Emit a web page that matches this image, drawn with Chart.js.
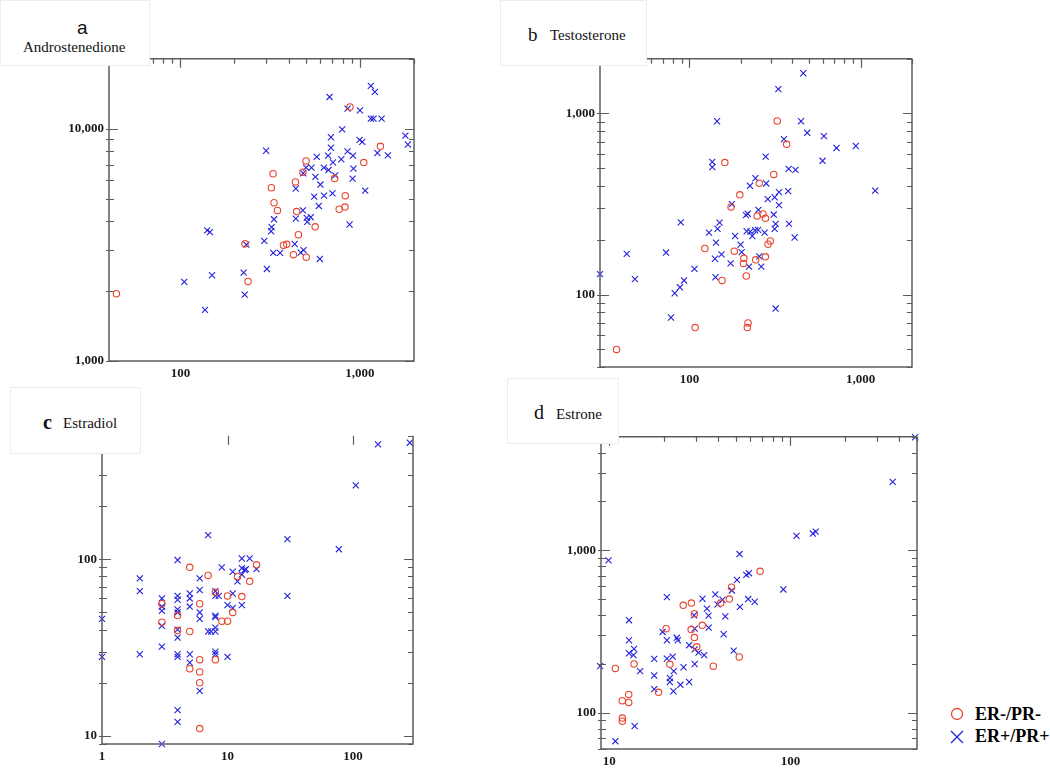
<!DOCTYPE html>
<html>
<head>
<meta charset="utf-8">
<title>Steroid scatter panels</title>
<script src="https://cdn.jsdelivr.net/npm/chart.js@4.4.1/dist/chart.umd.min.js"></script>
<style>
  body { margin: 0; background: #fff; }
  #page { position: relative; width: 1050px; height: 768px; overflow: hidden; font-family: "Liberation Serif", serif; }
  .panel { position: absolute; }
  .tag { position: absolute; background: #fff; border: 1px solid #ededed; z-index: 2; color: #111; }
  .tag span, .legend span { position: absolute; white-space: nowrap; line-height: 1; }
  .legend { position: absolute; left: 945px; top: 700px; width: 105px; height: 50px; }
  .legend svg { position: absolute; }
</style>
</head>
<body>
<div id="page">
  <div class="panel" id="boxA"><canvas id="chartA"></canvas></div>
  <div class="panel" id="boxB"><canvas id="chartB"></canvas></div>
  <div class="panel" id="boxC"><canvas id="chartC"></canvas></div>
  <div class="panel" id="boxD"><canvas id="chartD"></canvas></div>

  <div class="tag" style="left:0;top:0;width:148px;height:64px;">
    <span style="left:76px;top:16px;font:19px 'Liberation Sans',sans-serif;">a</span>
    <span style="left:22px;top:39px;font-size:15px;">Androstenedione</span>
  </div>
  <div class="tag" style="left:500px;top:0;width:145px;height:64px;">
    <span style="left:27px;top:24px;font-size:19px;">b</span>
    <span style="left:49px;top:27px;font-size:15px;">Testosterone</span>
  </div>
  <div class="tag" style="left:10px;top:387px;width:129px;height:65px;">
    <span style="left:32px;top:24px;font-size:20px;font-weight:bold;">c</span>
    <span style="left:52px;top:28px;font-size:15px;">Estradiol</span>
  </div>
  <div class="tag" style="left:507px;top:378px;width:110px;height:64px;">
    <span style="left:26px;top:23px;font-size:20px;">d</span>
    <span style="left:48px;top:28px;font-size:15px;">Estrone</span>
  </div>

  <div class="legend">
    <svg style="left:4px;top:6px;" width="16" height="16"><circle cx="8" cy="8" r="5.5" fill="none" stroke="#e9452c" stroke-width="1.3"/></svg>
    <span style="left:30px;top:5px;font-size:18px;font-weight:bold;">ER-/PR-</span>
    <svg style="left:4px;top:29px;" width="16" height="16"><path d="M2 2 L14 14 M14 2 L2 14" stroke="#2222dd" stroke-width="1.3"/></svg>
    <span style="left:30px;top:27px;font-size:18px;font-weight:bold;">ER+/PR+</span>
  </div>
</div>

<script>
// ===============================
// Data
// ===============================

// a) Androstenedione
const andro_neg_x = [44,229,238,328,321,332,347,375,391,426,437,444,454,481,501,502,563,722,766,825,828,880,1050,1300];
const andro_neg_y = [1950,3200,2200,6400,5570,4800,4450,3150,3180,2870,5900,4400,3500,6500,7270,2800,3780,6100,4500,4600,5150,12400,7150,8400];
const andro_pos_x = [105,137,141,146,150,225,228,233,293,300,303,320,322,332,329,359,439,439,433,468,481,483,485,501,505,509,532,537,565,556,575,590,598,602,629,631,665,677,689,689,668,703,707,728,787,796,853,853,875,910,914,920,1000,995,1030,1070,1150,1190,1150,1210,1250,1320,1430,1790,1850];
const andro_pos_y = [2190,1660,3650,3590,2340,2400,1930,3170,3290,8040,2490,3620,3770,4075,2920,2920,5530,4100,3190,2930,4450,6430,3000,6800,4130,3970,4160,6800,6200,5100,7560,4650,2750,5750,6800,5150,7660,13700,9190,8280,6640,5270,7160,6300,7390,9930,12200,7990,3870,6100,7660,6730,12000,8950,8780,5410,11060,11060,15300,14400,7860,11060,7680,9340,8550];
const andro_x_labels = [100, 1000];
const andro_y_labels = [1000, 10000];

// b) Testosterone
const testo_neg_x = [37.5,108,123,155,161,175,183,197,208,207,215,220,218,244,249,256,269,278,278,288,297,311,326,370];
const testo_neg_y = [50,66,180,120,536,305,174,356,159,149,127,70,66,156,272,412,279,264,162,190,198,461,908,675];
const testo_pos_x = [30,43,48,73,78,82,88,89,93,107,130,136,136,141,142,143,145,146,150,154,174,177,185,199,202,214,219,216,223,226,227,233,242,243,252,253,256,263,275,279,281,287,311,315,319,315,319,331,334,334,357,378,380,382,417,412,449,463,488,600,611,724,939,1218];
const testo_pos_y = [130,168,122,171,75,102,110,251,120,139,220,541,506,158,125,194,905,231,250,167,149,316,211,189,172,275,280,224,143,399,223,211,227,439,228,294,163,143,220,578,411,337,277,345,246,231,84,1360,368,312,722,373,495,246,488,207,905,1665,782,548,750,645,661,375];
const testo_x_labels = [100, 1000];
const testo_y_labels = [100, 1000];

// c) Estradiol
const estra_neg_x = [3,3,4,4,5,5,5,6,6,6,6,6,7,8,8,9,10,10,11,12,13,15,17];
const estra_neg_y = [56,44,48,39.5,90,39,24,56,27,23,20,11,81,65,27,44.6,44.6,62,50,80,61.5,75,93];
const estra_pos_x = [1,1,2,2,2,3,3,3,3,3,3,4,4,4,4,4,4,4,4,4,4,4,5,5,5,5,5,6,6,6,6,6,7,7,7.4,8,8,8,8,8,8,8,8,8.5,9,10,10,11,11,11,12,13,13,13,13,13.7,14,15,17,30,30,77,105,158,283];
const estra_pos_y = [46,28,78,66,29,60,54,51,42,32,9,99,62,59,52,50,40,36,29,28,14,12,64,60,54,29,26,78,67,50,46,18,137,39,39,66,62,48,47,41,39,30,29,62,90,28,55,85,64,53,75,101,89,82,55,87,88,101,88,130,62,114,262,447,457];
const estra_x_labels = [1, 10, 100];
const estra_y_labels = [10, 100];

// d) Estrone
const estro_neg_x = [10.8,11.8,11.8,11.8,12.8,12.8,13.7,18.7,20.6,21.6,25.6,28.4,28.3,29.5,29.5,30.4,32.6,37.5,41.2,46,47.3,52.2,68];
const estro_neg_y = [188,119,93,89,130,116,200,134,330,199,459,474,326,408,291,255,346,194,474,502,594,221,744];
const estro_pos_x = [8.9,9.9,10.8,12.85,12.85,12.85,13.7,13.8,13.6,14.8,17.7,17.7,17.7,19.7,20.8,20.8,20.8,21.6,21.6,22.4,22.7,22.6,23.6,23.9,24.7,25.7,27.6,27.6,29.4,29.6,29.6,29.6,31.1,32.7,33.4,34.6,35.3,35.4,38.5,39.6,42.2,42.8,43.7,47.5,48.6,50.7,52.4,52.6,57.1,59,58.5,63.5,91.4,108,133,138,367,488];
const estro_pos_y = [194,869,67,372,280,233,248,83,227,181,215,170,140,315,516,280,216,164,155,222,181,136,290,280,149,191,261,155,399,330,246,200,235,504,227,438,397,335,536,466,497,305,393,567,242,659,950,449,707,724,502,483,575,1229,1270,1306,2640,4970];
const estro_x_labels = [10, 100];
const estro_y_labels = [100, 1000];

// ===============================
// Styles
// ===============================
const RED = "#e9452c";
const BLUE = "#2222dd";
const AXIS = "#5c5c5c";
const TICK_FONT = { family: "'Liberation Serif', serif", size: 13, weight: "bold" };

const Y_AXIS_W = 60;
const X_AXIS_H = 30;
const PAD_TOP = 10;
const PAD_RIGHT = 10;

function zip(xs, ys) {
  return xs.map((x, i) => ({ x, y: ys[i] }));
}

// log tick positions (1..9 x 10^n) inside a range
function logSteps(min, max) {
  const out = [];
  for (let d = Math.floor(Math.log10(min)); d <= Math.ceil(Math.log10(max)); d++) {
    for (let k = 1; k < 10; k++) {
      const v = k * Math.pow(10, d);
      if (v >= min * 0.999 && v <= max * 1.001) out.push({ v, major: k === 1 });
    }
  }
  return out;
}

/* -----------------------------------------------------
   frame + inward tick marks
----------------------------------------------------- */
const frameTicks = {
  id: "frameTicks",
  afterDraw(chart, args, opts) {
    const { ctx, chartArea: a, scales: { x, y } } = chart;
    ctx.save();
    ctx.strokeStyle = AXIS;
    ctx.lineWidth = 1.5;

    ctx.beginPath();
    ctx.moveTo(a.right, a.top);
    ctx.lineTo(a.right, a.bottom);
    ctx.lineTo(a.left, a.bottom);
    ctx.lineTo(a.left, a.top);
    if (!opts.noTop) ctx.lineTo(a.right, a.top);
    ctx.stroke();

    ctx.lineWidth = 1.2;
    ctx.beginPath();
    logSteps(x.min, x.max).forEach((t) => {
      if (opts.noTop && !t.major) return;
      const px = Math.round(x.getPixelForValue(t.v)) + 0.5;
      const len = t.major ? 9 : 5;
      ctx.moveTo(px, a.top);
      ctx.lineTo(px, a.top + len);
    });
    logSteps(y.min, y.max).forEach((t) => {
      const py = Math.round(y.getPixelForValue(t.v)) + 0.5;
      const len = t.major ? 9 : 5;
      ctx.moveTo(a.left - 3, py);
      ctx.lineTo(a.left + len, py);
      ctx.moveTo(a.right, py);
      ctx.lineTo(a.right - len, py);
    });
    ctx.stroke();
    ctx.restore();
  }
};

/* -----------------------------------------------------
   one panel
----------------------------------------------------- */
function makePanel(p) {
  const box = document.getElementById(p.box);
  box.style.left = (p.left - Y_AXIS_W) + "px";
  box.style.top = (p.top - PAD_TOP) + "px";
  box.style.width = (p.width + Y_AXIS_W + PAD_RIGHT) + "px";
  box.style.height = (p.height + PAD_TOP + X_AXIS_H) + "px";

  new Chart(document.getElementById(p.canvas), {
    type: "scatter",
    data: {
      datasets: [
        {
          label: "ER-/PR-",
          data: zip(p.negX, p.negY),
          pointStyle: "circle",
          pointRadius: 3.2,
          borderColor: RED,
          backgroundColor: "rgba(0,0,0,0)",
          borderWidth: 1.1,
          clip: false
        },
        {
          label: "ER+/PR+",
          data: zip(p.posX, p.posY),
          pointStyle: "crossRot",
          pointRadius: 4.3,
          borderColor: BLUE,
          backgroundColor: BLUE,
          borderWidth: 1.1,
          clip: false
        }
      ]
    },
    options: {
      responsive: true,
      maintainAspectRatio: false,
      animation: false,
      events: [],
      layout: { padding: { top: PAD_TOP, right: PAD_RIGHT, left: 0, bottom: 0 } },
      plugins: {
        legend: { display: false },
        tooltip: { enabled: false },
        frameTicks: { noTop: !!p.noTop }
      },
      scales: {
        x: {
          type: "logarithmic",
          min: p.xRange[0],
          max: p.xRange[1],
          grid: { display: false, drawTicks: false },
          border: { display: false },
          afterBuildTicks: (s) => { s.ticks = p.xLabels.map((v) => ({ value: v })); },
          afterFit: (s) => { s.height = X_AXIS_H; },
          ticks: {
            autoSkip: false,
            maxRotation: 0,
            padding: 5,
            color: "#1a1a1a",
            font: TICK_FONT,
            callback: (v) => Number(v).toLocaleString("en-US")
          }
        },
        y: {
          type: "logarithmic",
          min: p.yRange[0],
          max: p.yRange[1],
          grid: { display: false, drawTicks: false },
          border: { display: false },
          afterBuildTicks: (s) => { s.ticks = p.yLabels.map((v) => ({ value: v })); },
          afterFit: (s) => { s.width = Y_AXIS_W; },
          ticks: {
            autoSkip: false,
            padding: 5,
            color: "#1a1a1a",
            font: TICK_FONT,
            callback: (v) => Number(v).toLocaleString("en-US")
          }
        }
      }
    },
    plugins: [frameTicks]
  });
}

/* -----------------------------------------------------
   init
----------------------------------------------------- */
makePanel({
  box: "boxA", canvas: "chartA",
  left: 109, top: 56, width: 305, height: 305,
  xRange: [40, 2000], yRange: [1000, 20000],
  xLabels: andro_x_labels, yLabels: andro_y_labels,
  negX: andro_neg_x, negY: andro_neg_y, posX: andro_pos_x, posY: andro_pos_y
});

makePanel({
  box: "boxB", canvas: "chartB",
  left: 600, top: 56, width: 312, height: 311,
  xRange: [30, 2000], yRange: [40, 2000],
  xLabels: testo_x_labels, yLabels: testo_y_labels,
  negX: testo_neg_x, negY: testo_neg_y, posX: testo_pos_x, posY: testo_pos_y
});

makePanel({
  box: "boxC", canvas: "chartC",
  left: 102, top: 433, width: 311, height: 311,
  xRange: [1, 300], yRange: [9, 500],
  xLabels: estra_x_labels, yLabels: estra_y_labels,
  negX: estra_neg_x, negY: estra_neg_y, posX: estra_pos_x, posY: estra_pos_y,
  noTop: true
});

makePanel({
  box: "boxD", canvas: "chartD",
  left: 601, top: 434, width: 316, height: 315,
  xRange: [9, 500], yRange: [60, 5000],
  xLabels: estro_x_labels, yLabels: estro_y_labels,
  negX: estro_neg_x, negY: estro_neg_y, posX: estro_pos_x, posY: estro_pos_y
});
</script>
</body>
</html>
